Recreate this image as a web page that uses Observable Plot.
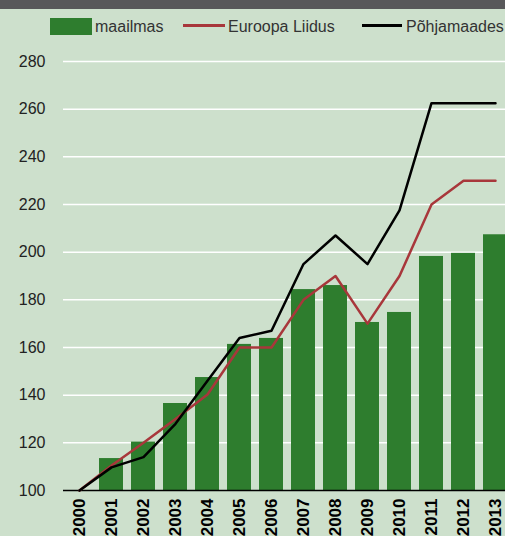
<!DOCTYPE html>
<html>
<head>
<meta charset="utf-8">
<script src="https://cdn.jsdelivr.net/npm/d3@7"></script>
<script src="https://cdn.jsdelivr.net/npm/@observablehq/plot@0.6"></script>
<style>
  html, body { margin: 0; padding: 0; overflow: hidden; background: #cde0cc; width: 505px; height: 536px; }
  body { position: relative; font-family: "Liberation Sans", Arial, Helvetica, sans-serif; }
  #topbar { position: absolute; left: 0; top: 0; width: 505px; height: 9px; background: #58585a; }
  .leg { position: absolute; top: 17px; font-size: 16px; color: #333; line-height: 20px; white-space: nowrap; }
  .sw { position: absolute; }
  #chart { position: absolute; left: 0; top: 40px; width: 511px; }
  #chart svg { max-width: none !important; width: 511px; height: 496px; }
</style>
</head>
<body>
<div id="topbar"></div>
<div class="sw" style="left:50px;top:18px;width:42px;height:17px;background:#2e7d2e"></div>
<div class="leg" style="left:95px">maailmas</div>
<div class="sw" style="left:183px;top:24px;width:42px;height:3px;background:#a8373b"></div>
<div class="leg" style="left:228px">Euroopa Liidus</div>
<div class="sw" style="left:362px;top:24px;width:40px;height:3px;background:#000"></div>
<div class="leg" style="left:406px">Põhjamaades</div>
<div id="chart"></div>
<script>
const years = ["2000","2001","2002","2003","2004","2005","2006","2007","2008","2009","2010","2011","2012","2013"];
const maailmas = [100, 113.4, 120.3, 136.5, 147.4, 161.3, 163.8, 184.3, 186, 170.5, 174.7, 198.2, 199.5, 207.3];
const euroopaLiidus = [100, 110.5, 120, 130, 140.3, 160, 160, 180, 190, 170, 190, 220, 230, 230];
const pohjamaades = [100, 109.7, 114, 128, 146, 164, 167, 195, 207, 195, 217.5, 262.5, 262.5, 262.5];
const yTicks = [100, 120, 140, 160, 180, 200, 220, 240, 260, 280];

const bars = years.map((y, i) => ({year: y, value: maailmas[i]}));
const eu = years.map((y, i) => ({year: y, value: euroopaLiidus[i]}));
const nord = years.map((y, i) => ({year: y, value: pohjamaades[i]}));

const plot = Plot.plot({
  width: 511,
  height: 496,
  marginLeft: 63,
  marginRight: 0,
  marginTop: 21,
  marginBottom: 46,
  style: {background: "transparent", fontFamily: "'Liberation Sans', Arial, Helvetica, sans-serif", overflow: "visible", maxWidth: "none"},
  x: {domain: years, paddingInner: 0.25, paddingOuter: 0.125, label: null},
  y: {domain: [100, 280], label: null},
  marks: [
    Plot.gridY(yTicks.filter(d => d > 100), {stroke: "#ffffff", strokeOpacity: 1, strokeWidth: 1.5}),
    Plot.barY(bars, {x: "year", y1: 100, y2: "value", fill: "#2e7d2e"}),
    Plot.ruleY([100], {stroke: "#000", strokeWidth: 1.5}),
    Plot.line(eu, {x: "year", y: "value", stroke: "#a8373b", strokeWidth: 2.5}),
    Plot.line(nord, {x: "year", y: "value", stroke: "#000", strokeWidth: 2.5}),
    Plot.axisY({ticks: yTicks, tickSize: 0, tickPadding: 18, fontSize: 16, fill: "#222", label: null}),
    Plot.axisX({tickSize: 0, tickPadding: 8, tickRotate: -90, fontSize: 17, fontWeight: "bold", fill: "#000", label: null})
  ]
});
document.getElementById("chart").appendChild(plot);
</script>
</body>
</html>
